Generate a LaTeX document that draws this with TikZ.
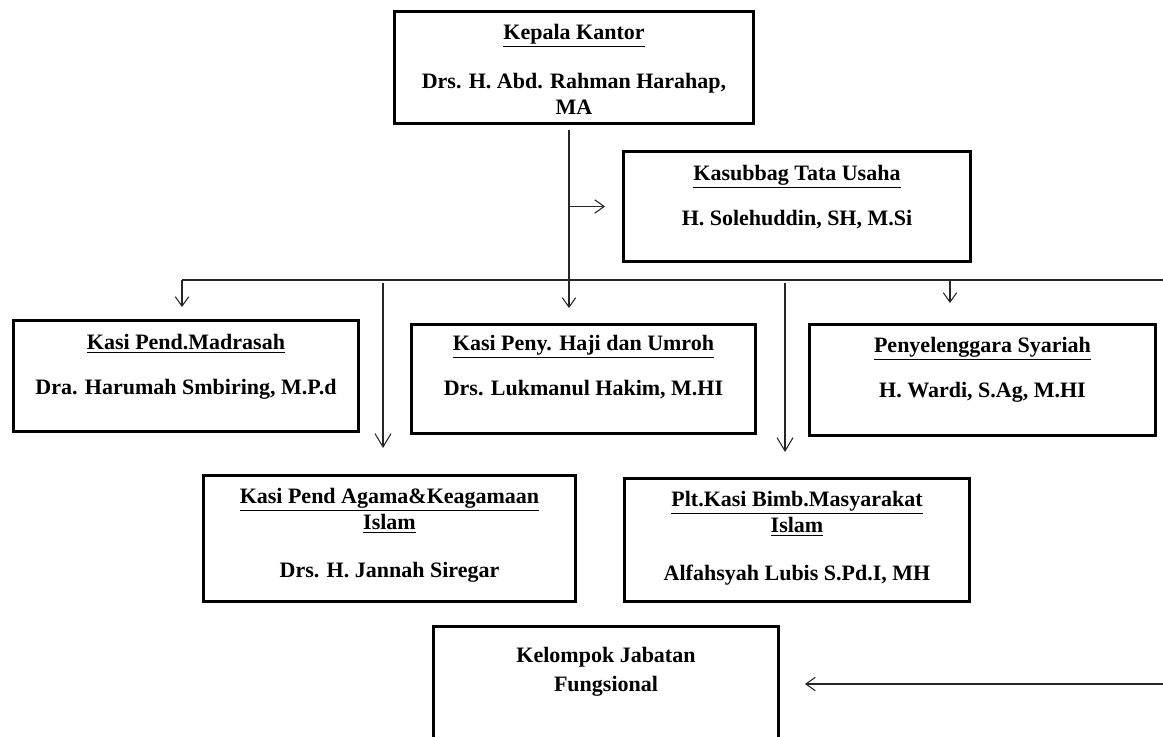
\documentclass[tikz,border=0pt]{standalone}
\usepackage{fontspec}
\setmainfont{Liberation Serif}
\usetikzlibrary{arrows.meta}
\newlength\px \setlength\px{0.75pt}
% outer width (px), outer height (px), content
\newcommand\orgtext[3]{\begin{minipage}[t][\dimexpr #2\px-2.6pt\relax][t]{\dimexpr #1\px-2.6pt\relax}\centering\bfseries\fontsize{16.5}{19.5}\selectfont #3\end{minipage}}
\tikzset{
  orgbox/.style={draw=black, line width=2.6pt, inner sep=0pt, anchor=north, fill=white},
  conn/.style={draw=black!85, line width=0.8pt},
  arr/.style={conn, -{Straight Barb[length=7pt,width=10pt]}},
  arrL/.style={conn, -{Straight Barb[length=10pt,width=12pt]}}
}
\begin{document}
\begin{tikzpicture}[x=0.75pt,y=-0.75pt]
\useasboundingbox (0,0) rectangle (1163,736);
\fill[white] (0,0) rectangle (1163,736);

\node[orgbox] (kk) at (574,10) {\orgtext{362}{115}{\rule{0pt}{28\px}\underline{Kepala Kantor}\\[23\px]Drs. H. Abd. Rahman Harahap,\\MA}};
\node[orgbox] (ku) at (797,150) {\orgtext{350}{113}{\rule{0pt}{29\px}\underline{Kasubbag Tata Usaha}\\[19\px]H. Solehuddin, SH, M.Si}};
\node[orgbox] (km) at (186,319) {\orgtext{348}{114}{\rule{0pt}{29\px}\underline{Kasi Pend.Madrasah}\\[19\px]Dra. Harumah Smbiring, M.P.d}};
\node[orgbox] (kh) at (583.5,323) {\orgtext{347}{112}{\rule{0pt}{26\px}\underline{Kasi Peny. Haji dan Umroh}\\[19\px]Drs. Lukmanul Hakim, M.HI}};
\node[orgbox] (ks) at (982.5,323) {\orgtext{349}{114}{\rule{0pt}{28\px}\underline{Penyelenggara Syariah}\\[19\px]H. Wardi, S.Ag, M.HI}};
\node[orgbox] (ka) at (389.5,474) {\orgtext{375}{129}{\rule{0pt}{28\px}\underline{Kasi Pend Agama\&Keagamaan}\\\underline{Islam}\\[22\px]Drs. H. Jannah Siregar}};
\node[orgbox] (kb) at (797,477) {\orgtext{348}{126}{\rule{0pt}{28\px}\underline{Plt.Kasi Bimb.Masyarakat}\\\underline{Islam}\\[22\px]Alfahsyah Lubis S.Pd.I, MH}};
\node[orgbox] (kf) at (606,625) {\orgtext{348}{135}{\rule{0pt}{36\px}Kelompok Jabatan\\[3\px]Fungsional}};

\coordinate (c1) at (569,0);
\coordinate (hl) at (182,280);
\coordinate (hr) at (1163,280);
\coordinate (h3) at (950,280);
\coordinate (v2) at (383,283);
\coordinate (v3) at (785,283);
\coordinate (r1) at (1163,684);

\draw[arr, shorten <=3.75pt, shorten >=11.25pt] (kk.south -| c1) -- (kh.north -| c1);
\draw[arr, shorten >=12.75pt] (c1 |- ku.west) -- (ku.west);
\draw[conn] (hl) -- (hr);
\draw[arr, shorten >=9pt] (hl) -- (hl |- km.north);
\draw[arr, shorten >=15pt] (h3) -- (h3 |- ks.north);
\draw[arrL, shorten >=19.5pt] (v2) -- (v2 |- ka.north);
\draw[arrL, shorten >=18.75pt] (v3) -- (v3 |- kb.north);
\draw[arr, shorten >=18.75pt] (r1) -- (r1 -| kf.east);
\end{tikzpicture}
\end{document}
